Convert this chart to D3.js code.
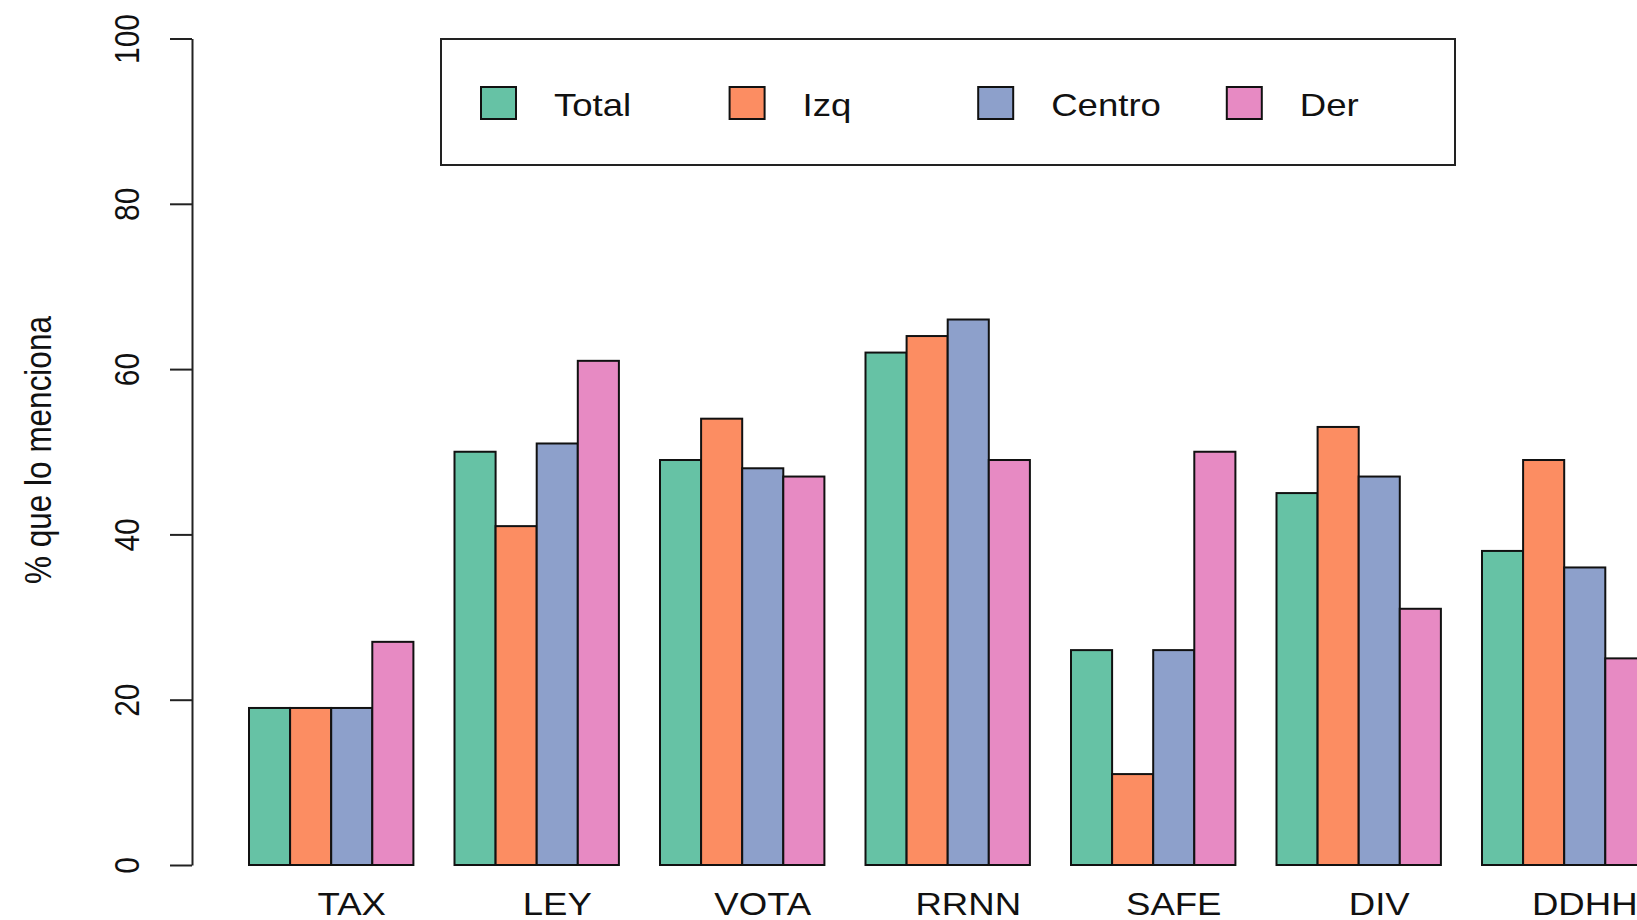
<!DOCTYPE html>
<html>
<head>
<meta charset="utf-8">
<script src="https://cdnjs.cloudflare.com/ajax/libs/d3/7.8.5/d3.min.js"></script>
<style>
    body { margin: 0; background: #fff; }
    svg text { font-family: 'Liberation Sans', Arial, sans-serif; fill: #111; }
</style>
</head>
<body>
<div id="chart"></div>
<script>
var categories = ['TAX', 'LEY', 'VOTA', 'RRNN', 'SAFE', 'DIV', 'DDHH'];
var groups = ['Total', 'Izq', 'Centro', 'Der'];
var total = [19, 50, 49, 62, 26, 45, 38];
var izq = [19, 41, 54, 64, 11, 53, 49];
var centro = [19, 51, 48, 66, 26, 47, 36];
var der = [27, 61, 47, 49, 50, 31, 25];
var yTicks = [0, 20, 40, 60, 80, 100];
var colors = ['#66C2A5', '#FC8D62', '#8DA0CB', '#E78AC3'];
var yTitle = '% que lo menciona';

///////////// INIT
makeBars();

function makeBars() {
    var fullwidth = 1637;
    var fullheight = 920;
    var stretch = 1.18; // text looks horizontally stretched in the original
    var series = [total, izq, centro, der];

    var svg = d3.select('#chart')
        .append('svg')
        .attr('width', fullwidth)
        .attr('height', fullheight);

    var y = d3.scaleLinear()
        .domain([0, 100])
        .range([865, 38.5]);

    // R barplot beside=TRUE, space=c(0,1): one empty bar between groups
    var x0 = d3.scaleBand()
        .domain(categories)
        .range([207.9, 1687.5])
        .paddingInner(0.2)
        .paddingOuter(0.2);

    var x1 = d3.scaleBand()
        .domain(groups)
        .range([0, x0.bandwidth()]);

    var rows = [];
    categories.forEach(function(c, i) {
        groups.forEach(function(g, j) {
            rows.push({ cat: c, group: g, value: series[j][i], color: colors[j] });
        });
    });

    svg.append('g')
        .selectAll('rect')
        .data(rows)
        .enter()
        .append('rect')
        .attr('x', function(d) { return x0(d.cat) + x1(d.group); })
        .attr('y', function(d) { return y(d.value); })
        .attr('width', x1.bandwidth())
        .attr('height', function(d) { return y(0) - y(d.value); })
        .attr('fill', function(d) { return d.color; })
        .attr('stroke', '#111')
        .attr('stroke-width', 2);

    // category labels sit under the third bar of each group
    svg.append('g')
        .selectAll('text')
        .data(categories)
        .enter()
        .append('text')
        .attr('text-anchor', 'middle')
        .attr('font-size', 31)
        .attr('transform', function(d) {
            var cx = x0(d) + x1('Centro') + x1.bandwidth() / 2;
            return 'translate(' + cx + ',915) scale(' + stretch + ',1)';
        })
        .text(function(d) { return d; });

    // y axis
    var yAxis = d3.axisLeft(y)
        .tickValues(yTicks)
        .tickSize(22)
        .tickSizeOuter(0);

    var gy = svg.append('g')
        .attr('transform', 'translate(192,0)')
        .call(yAxis);

    gy.select('.domain').attr('stroke', '#222').attr('stroke-width', 2);
    gy.selectAll('.tick line').attr('stroke', '#222').attr('stroke-width', 2);
    gy.selectAll('.tick text')
        .attr('x', null)
        .attr('dy', null)
        .attr('text-anchor', 'middle')
        .attr('font-size', 30)
        .attr('font-family', null)
        .attr('fill', '#111')
        .attr('transform', 'translate(-53,0) scale(' + stretch + ',1) rotate(-90)');

    svg.append('text')
        .attr('text-anchor', 'middle')
        .attr('font-size', 31.5)
        .attr('transform', 'translate(50.5,450) scale(' + stretch + ',1) rotate(-90)')
        .text(yTitle);

    // legend
    var legend = svg.append('g')
        .attr('transform', 'translate(441,39)');

    legend.append('rect')
        .attr('width', 1014)
        .attr('height', 126)
        .attr('fill', 'none')
        .attr('stroke', '#222')
        .attr('stroke-width', 2);

    var item = legend.selectAll('.item')
        .data(groups)
        .enter()
        .append('g')
        .attr('class', 'item')
        .attr('transform', function(d, i) { return 'translate(' + (40 + i * 248.6) + ',48)'; });

    item.append('rect')
        .attr('width', 35)
        .attr('height', 32)
        .attr('fill', function(d, i) { return colors[i]; })
        .attr('stroke', '#111')
        .attr('stroke-width', 2);

    item.append('text')
        .attr('font-size', 31)
        .attr('transform', 'translate(73,29) scale(' + stretch + ',1)')
        .text(function(d) { return d; });
}
</script>
</body>
</html>
